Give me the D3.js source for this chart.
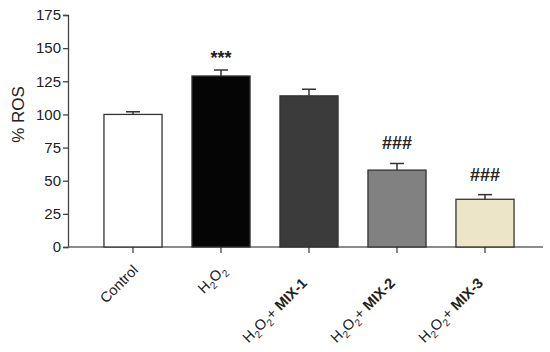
<!DOCTYPE html>
<html>
<head>
<meta charset="utf-8">
<script src="https://cdn.jsdelivr.net/npm/d3@7"></script>
<style>
  body { margin: 0; background: #fff; }
  svg text { font-family: "Liberation Sans", Arial, sans-serif; fill: #222; }
</style>
</head>
<body>
<div id="chart"></div>
<script>
// groups along the x axis
var groups = ["Control", "H2O2", "H2O2 + MIX-1", "H2O2 + MIX-2", "H2O2 + MIX-3"];
var rosMean = [100, 129, 114, 58, 36];
var rosErr = [2, 4.5, 5, 5, 3.5];
var marks = ["", "***", "", "###", "###"];
var barColors = ["#ffffff", "#050505", "#3b3b3b", "#818181", "#ece5c7"];
var yTicks = [0, 25, 50, 75, 100, 125, 150, 175];

var width = 550, height = 352,
  margin = {top: 15, right: 7, bottom: 105, left: 68};

var svg = d3.select("#chart").append("svg")
  .attr("width", width)
  .attr("height", height);

var y = d3.scaleLinear()
  .domain([0, 175])
  .range([height - margin.bottom, margin.top]);

var x = d3.scaleBand()
  .domain(groups)
  .range([89, 529])
  .paddingInner(0.34)
  .paddingOuter(0.17);

// y axis
var yAxis = svg.append("g")
  .attr("transform", "translate(" + margin.left + ",0)")
  .call(d3.axisLeft(y).tickValues(yTicks).tickSize(5).tickPadding(2));
yAxis.selectAll("text").style("font-size", "15px");
yAxis.selectAll("path, line").attr("stroke", "#444").attr("stroke-width", 1.3);

// x axis: long baseline, ticks at bar centres
svg.append("line")
  .attr("x1", margin.left).attr("x2", width - margin.right)
  .attr("y1", y(0)).attr("y2", y(0))
  .attr("stroke", "#666").attr("stroke-width", 1.5);

var xAxis = svg.append("g")
  .attr("transform", "translate(0," + y(0) + ")")
  .call(d3.axisBottom(x).tickSize(6).tickFormat(""));
xAxis.select(".domain").remove();
xAxis.selectAll("line").attr("stroke", "#444").attr("stroke-width", 1.3);

// bars
svg.selectAll("rect.bar")
  .data(groups)
  .enter().append("rect")
  .attr("class", "bar")
  .attr("x", function (d) { return x(d); })
  .attr("width", x.bandwidth())
  .attr("y", function (d, i) { return y(rosMean[i]); })
  .attr("height", function (d, i) { return y(0) - y(rosMean[i]); })
  .attr("fill", function (d, i) { return barColors[i]; })
  .attr("stroke", "#333")
  .attr("stroke-width", 1.3);

// error bars (upper half only)
var err = svg.selectAll("g.err")
  .data(groups)
  .enter().append("g")
  .attr("class", "err")
  .attr("stroke", "#333")
  .attr("stroke-width", 1.5);
err.append("line")
  .attr("x1", function (d) { return x(d) + x.bandwidth() / 2; })
  .attr("x2", function (d) { return x(d) + x.bandwidth() / 2; })
  .attr("y1", function (d, i) { return y(rosMean[i]); })
  .attr("y2", function (d, i) { return y(rosMean[i] + rosErr[i]); });
err.append("line")
  .attr("x1", function (d) { return x(d) + x.bandwidth() / 2 - 7; })
  .attr("x2", function (d) { return x(d) + x.bandwidth() / 2 + 7; })
  .attr("y1", function (d, i) { return y(rosMean[i] + rosErr[i]); })
  .attr("y2", function (d, i) { return y(rosMean[i] + rosErr[i]); });

// significance marks
svg.selectAll("text.mark")
  .data(groups)
  .enter().append("text")
  .attr("class", "mark")
  .attr("x", function (d) { return x(d) + x.bandwidth() / 2; })
  .attr("y", function (d, i) { return y(rosMean[i] + rosErr[i]) - (marks[i] == "***" ? 6 : 14); })
  .attr("text-anchor", "middle")
  .style("font-size", "18px")
  .style("font-weight", "bold")
  .text(function (d, i) { return marks[i]; });

// x labels, rotated, with chemical subscripts
var lab = svg.selectAll("text.xlab")
  .data(groups)
  .enter().append("text")
  .attr("class", "xlab")
  .attr("text-anchor", "end")
  .style("font-size", "14.5px")
  .attr("transform", function (d) {
    var tx = x(d) + x.bandwidth() / 2 + 6;
    var ty = y(0) + 24;
    if (d.indexOf("+") > 0) { tx -= 7; ty += 13; }
    return "translate(" + tx + "," + ty + ") rotate(-45)";
  });

lab.each(function (d) {
  var t = d3.select(this);
  if (d == "Control") { t.text(d); return; }
  t.append("tspan").text("H");
  t.append("tspan").attr("dy", 4).style("font-size", "10px").text("2");
  t.append("tspan").attr("dy", -4).text("O");
  t.append("tspan").attr("dy", 4).style("font-size", "10px").text("2");
  if (d.indexOf("+") > 0) {
    t.append("tspan").attr("dy", -4).text("+ ");
    t.append("tspan").style("font-weight", "bold").text(d.split("+ ")[1]);
  } else {
    t.append("tspan").attr("dy", -4).text("");
  }
});

// y axis title
svg.append("text")
  .attr("transform", "translate(24," + y(100) + ") rotate(-90)")
  .attr("text-anchor", "middle")
  .style("font-size", "17px")
  .text("% ROS");
</script>
</body>
</html>
